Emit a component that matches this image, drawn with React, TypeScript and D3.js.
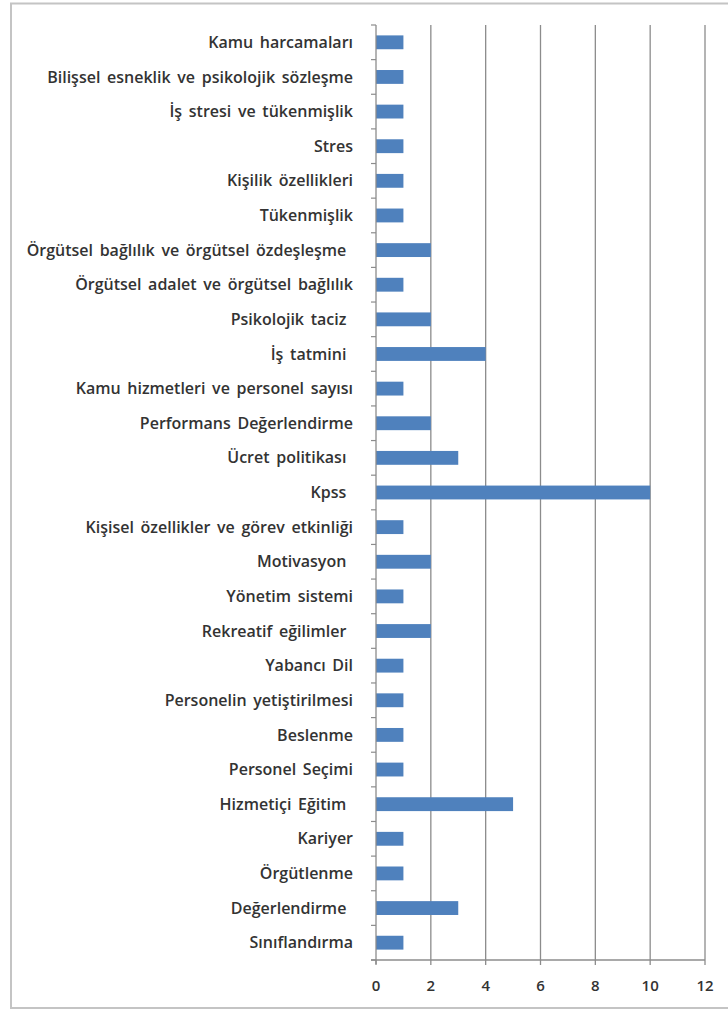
import React, { useEffect, useRef } from "react";
import * as d3 from "d3";

const categories = [
  "Kamu harcamaları",
  "Bilişsel esneklik ve psikolojik sözleşme",
  "İş stresi ve tükenmişlik",
  "Stres",
  "Kişilik özellikleri",
  "Tükenmişlik",
  "Örgütsel bağlılık ve örgütsel özdeşleşme ",
  "Örgütsel adalet ve örgütsel bağlılık",
  "Psikolojik taciz ",
  "İş tatmini ",
  "Kamu hizmetleri ve personel sayısı",
  "Performans Değerlendirme",
  "Ücret politikası ",
  "Kpss ",
  "Kişisel özellikler ve görev etkinliği",
  "Motivasyon ",
  "Yönetim sistemi",
  "Rekreatif eğilimler ",
  "Yabancı Dil",
  "Personelin yetiştirilmesi",
  "Beslenme",
  "Personel Seçimi",
  "Hizmetiçi Eğitim ",
  "Kariyer",
  "Örgütlenme",
  "Değerlendirme ",
  "Sınıflandırma",
];

const counts = [1, 1, 1, 1, 1, 1, 2, 1, 2, 4, 1, 2, 3, 10, 1, 2, 1, 2, 1, 1, 1, 1, 5, 1, 1, 3, 1];

const xTicks = [0, 2, 4, 6, 8, 10, 12];

function App() {
  const ref = useRef<SVGSVGElement>(null);

  useEffect(() => {
    const svg = d3.select(ref.current);
    svg.selectAll("*").remove();
    const width = 728;
    const left = 376;
    const right = 705;
    const top = 25;
    const bottom = 960;
    const font = "'Open Sans', sans-serif";

    // outer frame
    svg
      .append("rect")
      .attr("x", 11)
      .attr("y", 3.5)
      .attr("width", width)
      .attr("height", 1004.5)
      .attr("fill", "white")
      .attr("stroke", "#c4c4c4")
      .attr("stroke-width", 2);

    const x = d3.scaleLinear().domain([0, 12]).range([left, right]);
    const y = d3.scaleBand().domain(categories).range([top, bottom]).paddingInner(0.6).paddingOuter(0.3);

    const g = svg.append("g");

    // gridlines
    g.selectAll("line.grid")
      .data(xTicks.slice(1))
      .enter()
      .append("line")
      .attr("x1", (d) => x(d))
      .attr("x2", (d) => x(d))
      .attr("y1", top)
      .attr("y2", bottom)
      .attr("stroke", "#8c8c8c")
      .attr("stroke-width", 1.3);

    // bars
    g.selectAll("rect.bar")
      .data(counts)
      .enter()
      .append("rect")
      .attr("x", x(0))
      .attr("y", (d, i) => y(categories[i])!)
      .attr("width", (d) => x(d) - x(0))
      .attr("height", y.bandwidth())
      .attr("fill", "#4f81bd");

    // y axis line and ticks
    g.append("line")
      .attr("x1", left)
      .attr("x2", left)
      .attr("y1", top)
      .attr("y2", bottom + 4)
      .attr("stroke", "#8c8c8c")
      .attr("stroke-width", 1.3);
    const step = (bottom - top) / categories.length;
    g.selectAll("line.ytick")
      .data(d3.range(categories.length + 1))
      .enter()
      .append("line")
      .attr("x1", left - 5)
      .attr("x2", left)
      .attr("y1", (i) => top + i * step)
      .attr("y2", (i) => top + i * step)
      .attr("stroke", "#8c8c8c")
      .attr("stroke-width", 1.2);

    // x axis line and ticks
    g.append("line")
      .attr("x1", left - 5)
      .attr("x2", right)
      .attr("y1", bottom)
      .attr("y2", bottom)
      .attr("stroke", "#8c8c8c")
      .attr("stroke-width", 1.3);
    g.selectAll("line.xtick")
      .data(xTicks)
      .enter()
      .append("line")
      .attr("x1", (d) => x(d))
      .attr("x2", (d) => x(d))
      .attr("y1", bottom)
      .attr("y2", bottom + 5)
      .attr("stroke", "#8c8c8c")
      .attr("stroke-width", 1.3);

    // category labels
    g.selectAll("text.cat")
      .data(categories)
      .enter()
      .append("text")
      .attr("x", left - 23)
      .attr("y", (d) => y(d)! + y.bandwidth() / 2)
      .attr("dy", "0.35em")
      .attr("text-anchor", "end")
      .style("white-space", "pre")
      .style("word-spacing", "2.5px")
      .attr("font-family", font)
      .attr("font-size", 16)
      .attr("font-weight", 600)
      .attr("fill", "#333")
      .text((d) => d);

    // x tick labels
    g.selectAll("text.xl")
      .data(xTicks)
      .enter()
      .append("text")
      .attr("x", (d) => x(d))
      .attr("y", 986)
      .attr("dy", "0.35em")
      .attr("text-anchor", "middle")
      .attr("font-family", font)
      .attr("font-size", 15)
      .attr("font-weight", 600)
      .attr("fill", "#333")
      .text((d) => d);
  }, []);

  return (
    <div style={{ position: "absolute", left: 0, top: 0 }}>
      <svg ref={ref} width="728" height="1012" style={{ display: "block" }}></svg>
    </div>
  );
}

export default App;
